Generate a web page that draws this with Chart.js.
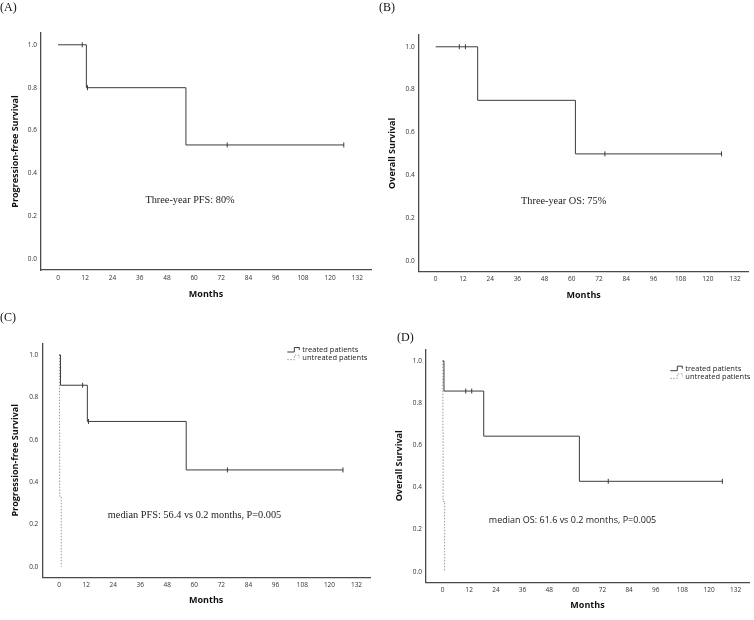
<!DOCTYPE html>
<html>
<head>
<meta charset="utf-8">
<script src="https://cdn.jsdelivr.net/npm/chart.js@4"></script>
<style>
  body { margin: 0; background: #fff; width: 754px; height: 620px; position: relative; overflow: hidden; }
  canvas { position: absolute; }
  .tag { position: absolute; font: 12px "Liberation Serif", serif; color: #111; line-height: 12px; }
</style>
</head>
<body>
<canvas id="cA" width="377" height="310" style="left:0;top:0"></canvas>
<canvas id="cB" width="377" height="310" style="left:377px;top:0"></canvas>
<canvas id="cC" width="377" height="310" style="left:0;top:310px"></canvas>
<canvas id="cD" width="377" height="310" style="left:377px;top:310px"></canvas>
<div class="tag" style="left:0;top:1px">(A)</div>
<div class="tag" style="left:379px;top:1px">(B)</div>
<div class="tag" style="left:0;top:311px">(C)</div>
<div class="tag" style="left:397px;top:331px">(D)</div>
<script>
const monthTicks = [0, 12, 24, 36, 48, 60, 72, 84, 96, 108, 120, 132];
const survTicks = [0, 0.2, 0.4, 0.6, 0.8, 1.0];

// (A) progression-free survival
const pfsTimes = [0, 12.5, 56.4, 126];
const pfsSurv = [1, 0.8, 0.533, 0.533];
const pfsCensorTimes = [10.7, 13, 74.6, 126];
const pfsCensorSurv = [1, 0.8, 0.533, 0.533];

// (B) overall survival
const osTimes = [0, 18.5, 61.6, 126];
const osSurv = [1, 0.75, 0.5, 0.5];
const osCensorTimes = [10.4, 13.1, 74.6, 126];
const osCensorSurv = [1, 1, 0.5, 0.5];

// (C) PFS, treated vs untreated
const pfsTreatedTimes = [0, 0.6, 12.5, 56.4, 126];
const pfsTreatedSurv = [1, 0.857, 0.686, 0.457, 0.457];
const pfsTreatedCensorTimes = [10.4, 13, 74.7, 126];
const pfsTreatedCensorSurv = [0.857, 0.686, 0.457, 0.457];
const pfsUntreatedTimes = [0, 0.1, 0.2, 0.9];
const pfsUntreatedSurv = [1, 0.667, 0.333, 0];

// (D) OS, treated vs untreated
const osTreatedTimes = [0, 0.6, 18.5, 61.6, 126];
const osTreatedSurv = [1, 0.857, 0.643, 0.429, 0.429];
const osTreatedCensorTimes = [10.4, 13.1, 74.6, 126];
const osTreatedCensorSurv = [0.857, 0.857, 0.429, 0.429];
const osUntreatedTimes = [0, 0.1, 0.2, 0.9];
const osUntreatedSurv = [1, 0.667, 0.333, 0];

const legendLabels = ["treated patients", "untreated patients"];

Chart.defaults.font.family = "'Open Sans', sans-serif";

const LINE = "#3c3c3c";
const DASH = "#9a9a9a";

function pts(xs, ys) {
  return xs.map((x, i) => ({ x, y: ys[i] }));
}

function curve(xs, ys, dashed) {
  return {
    data: pts(xs, ys),
    showLine: true,
    stepped: "before",
    pointRadius: 0,
    borderWidth: 1,
    borderColor: dashed ? DASH : LINE,
    borderDash: dashed ? [1.5, 1.5] : [],
  };
}

function censors(xs, ys) {
  return {
    data: pts(xs, ys),
    showLine: false,
    pointStyle: "line",
    rotation: 90,
    pointRadius: 2.5,
    borderWidth: 1,
    borderColor: LINE,
  };
}

// annotation text + the small SPSS style legend
const notes = {
  id: "notes",
  afterDraw(chart, args, opts) {
    const { ctx } = chart;
    const { x, y } = chart.scales;
    ctx.save();
    ctx.fillStyle = "#1a1a1a";
    ctx.font = opts.font;
    ctx.textAlign = "center";
    ctx.textBaseline = "middle";
    ctx.fillText(opts.text, x.getPixelForValue(opts.at[0]), y.getPixelForValue(opts.at[1]));
    if (opts.legend) {
      const [lx, ly] = opts.legend;
      ctx.font = "7.5px 'Open Sans'";
      ctx.textAlign = "left";
      legendLabels.forEach((lab, i) => {
        const ry = ly + i * 7.7;
        ctx.strokeStyle = i ? DASH : LINE;
        ctx.lineWidth = 1;
        ctx.setLineDash(i ? [1.5, 1.5] : []);
        ctx.beginPath();
        ctx.moveTo(lx, ry + 2);
        ctx.lineTo(lx + 7, ry + 2);
        ctx.lineTo(lx + 7, ry - 2.5);
        ctx.lineTo(lx + 12, ry - 2.5);
        ctx.lineTo(lx + 12, ry);
        ctx.stroke();
        ctx.fillStyle = "#222";
        ctx.fillText(lab, lx + 15, ry);
      });
    }
    ctx.restore();
  },
};

function makeChart(id, cfg) {
  return new Chart(document.getElementById(id), {
    type: "scatter",
    data: { datasets: cfg.datasets },
    options: {
      responsive: false,
      animation: false,
      devicePixelRatio: 1,
      layout: { padding: { top: cfg.padTop, right: cfg.padRight, left: 0, bottom: 0 } },
      plugins: { legend: { display: false }, tooltip: { enabled: false }, notes: cfg.notes },
      scales: {
        x: {
          type: "linear",
          min: -7.5,
          max: 138,
          grid: { display: false, drawTicks: false },
          border: { color: "#4a4a4a", width: 1.3 },
          afterBuildTicks: (s) => { s.ticks = monthTicks.map((v) => ({ value: v })); },
          afterFit: (s) => { s.height = cfg.xH; },
          ticks: { padding: 4, font: { size: 6.5 }, color: "#333", autoSkip: false, maxRotation: 0 },
          title: {
            display: true, text: "Months", color: "#111",
            font: { size: 9, weight: "bold" },
            padding: { top: 0, bottom: cfg.xTitlePad },
          },
        },
        y: {
          type: "linear",
          min: -0.05,
          max: 1.055,
          grid: { display: false, drawTicks: false },
          border: { color: "#4a4a4a", width: 1.3 },
          afterBuildTicks: (s) => { s.ticks = survTicks.map((v) => ({ value: v })); },
          afterFit: (s) => { s.width = cfg.yW; },
          ticks: { padding: 4, font: { size: 6.5 }, color: "#333", callback: (v) => v.toFixed(1) },
          title: {
            display: true, text: cfg.yTitle, color: "#111",
            font: { size: 9, weight: "bold" },
            padding: { top: cfg.yTitlePad, bottom: 0 },
          },
        },
      },
    },
    plugins: [notes],
  });
}

makeChart("cA", {
  padTop: 33, padRight: 6, yW: 41, xH: 40, xTitlePad: 10.3, yTitlePad: 9.6,
  yTitle: "Progression-free Survival",
  datasets: [curve(pfsTimes, pfsSurv), censors(pfsCensorTimes, pfsCensorSurv)],
  notes: { text: "Three-year PFS: 80%", at: [58.2, 0.276], font: "10.3px 'Liberation Serif'" },
});

makeChart("cB", {
  padTop: 35, padRight: 5.3, yW: 41.7, xH: 38.3, xTitlePad: 8.9, yTitlePad: 9.6,
  yTitle: "Overall Survival",
  datasets: [curve(osTimes, osSurv), censors(osCensorTimes, osCensorSurv)],
  notes: { text: "Three-year OS: 75%", at: [56.4, 0.28], font: "10.3px 'Liberation Serif'" },
});

makeChart("cC", {
  padTop: 33.3, padRight: 7, yW: 42.3, xH: 42.7, xTitlePad: 13.9, yTitlePad: 9.6,
  yTitle: "Progression-free Survival",
  datasets: [
    curve(pfsTreatedTimes, pfsTreatedSurv),
    censors(pfsTreatedCensorTimes, pfsTreatedCensorSurv),
    curve(pfsUntreatedTimes, pfsUntreatedSurv, true),
  ],
  notes: {
    text: "median PFS: 56.4 vs 0.2 months, P=0.005", at: [60.1, 0.241],
    font: "10.3px 'Liberation Serif'", legend: [287.3, 40],
  },
});

makeChart("cD", {
  padTop: 39.3, padRight: 3, yW: 49, xH: 37.7, xTitlePad: 9.3, yTitlePad: 17.3,
  yTitle: "Overall Survival",
  datasets: [
    curve(osTreatedTimes, osTreatedSurv),
    censors(osTreatedCensorTimes, osTreatedCensorSurv),
    curve(osUntreatedTimes, osUntreatedSurv, true),
  ],
  notes: {
    text: "median OS: 61.6 vs 0.2 months, P=0.005", at: [58.5, 0.243],
    font: "9px 'Open Sans'", legend: [293.3, 58.7],
  },
});
</script>
</body>
</html>
